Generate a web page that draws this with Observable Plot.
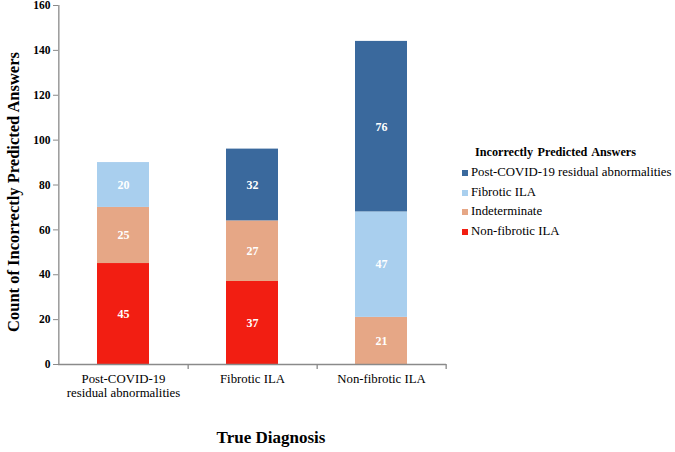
<!DOCTYPE html>
<html>
<head>
<meta charset="utf-8">
<script src="https://cdn.jsdelivr.net/npm/d3@7"></script>
<script src="https://cdn.jsdelivr.net/npm/@observablehq/plot@0.6"></script>
<style>
  html, body { margin: 0; padding: 0; background: #fff; }
  #wrap { position: relative; width: 675px; height: 452px; font-family: "Liberation Serif", "DejaVu Serif", serif; }
  #chart { position: absolute; left: 0; top: 0; }
  #chart svg, #chart svg text { font-family: "Liberation Serif", "DejaVu Serif", serif !important; }
  .ytitle { position: absolute; left: 14px; top: 192px; transform: translate(-50%, -50%) rotate(-90deg); font-weight: bold; font-size: 16.5px; white-space: nowrap; color: #000; }
  .xtitle { position: absolute; left: 271px; top: 438px; transform: translate(-50%, -50%); font-weight: bold; font-size: 17px; white-space: nowrap; color: #000; }
  .legend { position: absolute; left: 462px; top: 143px; color: #000; }
  .legend .lt { font-weight: bold; font-size: 12.2px; word-spacing: 1.5px; margin-left: 13px; height: 20px; line-height: 18px; white-space: nowrap; }
  .legend .it { font-size: 12.8px; height: 19.7px; line-height: 19.7px; white-space: nowrap; display: flex; align-items: center; }
  .legend .sw { width: 6px; height: 6px; margin-right: 3px; display: inline-block; }
</style>
</head>
<body>
<div id="wrap">
  <div id="chart"></div>
  <div class="ytitle">Count of Incorrectly Predicted Answers</div>
  <div class="xtitle">True Diagnosis</div>
  <div class="legend" id="legend"></div>
</div>
<script>
const categories = ["Post-COVID-19 residual abnormalities", "Fibrotic ILA", "Non-fibrotic ILA"];
const categoryLabels = ["Post-COVID-19\nresidual abnormalities", "Fibrotic ILA", "Non-fibrotic ILA"];
const series = ["Non-fibrotic ILA", "Indeterminate", "Fibrotic ILA", "Post-COVID-19 residual abnormalities"];
const legendOrder = ["Post-COVID-19 residual abnormalities", "Fibrotic ILA", "Indeterminate", "Non-fibrotic ILA"];
const colors = ["#F21E12", "#E6A786", "#A9CFEE", "#3A699D"];
const nonFibroticValues = [45, 37, 0];
const indeterminateValues = [25, 27, 21];
const fibroticValues = [20, 0, 47];
const postCovidValues = [0, 32, 76];
const yTicks = [0, 20, 40, 60, 80, 100, 120, 140, 160];

const seriesValues = [nonFibroticValues, indeterminateValues, fibroticValues, postCovidValues];
const data = [];
series.forEach((s, si) => {
  categories.forEach((c, ci) => {
    const v = seriesValues[si][ci];
    if (v > 0) data.push({category: c, series: s, value: v});
  });
});

const W = 675, H = 452;
const mL = 58, mR = 229, mT = 5, mB = 88;
const halfBand = (W - mL - mR) / categories.length / 2;
const serif = "Liberation Serif, serif";

const plot = Plot.plot({
  width: W,
  height: H,
  marginLeft: mL,
  marginRight: mR,
  marginTop: mT,
  marginBottom: mB,
  style: {background: "#fff", color: "#000", overflow: "visible"},
  x: {domain: categories, paddingInner: 0.6, paddingOuter: 0.3, label: null, axis: null},
  y: {domain: [0, 160], label: null, axis: null},
  color: {domain: series, range: colors},
  marks: [
    Plot.barY(data, Plot.stackY({x: "category", y: "value", fill: "series", order: series})),
    Plot.text(data, Plot.stackY({x: "category", y: "value", z: "series", order: series, text: d => String(d.value), fill: "white", fontWeight: "bold", fontSize: 12, fontFamily: serif})),
    Plot.ruleY([0], {stroke: "#8a8a8a", strokeWidth: 1.3}),
    Plot.ruleX([categories[0]], {x: d => d, dx: -halfBand, y1: 0, y2: 160, stroke: "#8a8a8a", strokeWidth: 1.3}),
    Plot.ruleX(categories, {x: d => d, dx: halfBand, y1: 0, y2: 0, insetBottom: -5, stroke: "#8a8a8a", strokeWidth: 1.3}),
    Plot.axisY(yTicks, {ticks: yTicks, tickSize: 5, stroke: "#8a8a8a", tickPadding: 3, fontWeight: "bold", fontSize: 11.5, fill: "#000", label: null, fontFamily: serif}),
    Plot.axisX({tickSize: 0, tickPadding: 8, fontSize: 12.8, fill: "#000", label: null, lineHeight: 1.1, fontFamily: serif, tickFormat: d => categoryLabels[categories.indexOf(d)]})
  ]
});
document.getElementById("chart").appendChild(plot);

const legend = document.getElementById("legend");
const title = document.createElement("div");
title.className = "lt";
title.textContent = "Incorrectly Predicted Answers";
legend.appendChild(title);
legendOrder.forEach(s => {
  const row = document.createElement("div");
  row.className = "it";
  const sw = document.createElement("span");
  sw.className = "sw";
  sw.style.background = colors[series.indexOf(s)];
  row.appendChild(sw);
  const t = document.createElement("span");
  t.textContent = s;
  row.appendChild(t);
  legend.appendChild(row);
});
</script>
</body>
</html>
